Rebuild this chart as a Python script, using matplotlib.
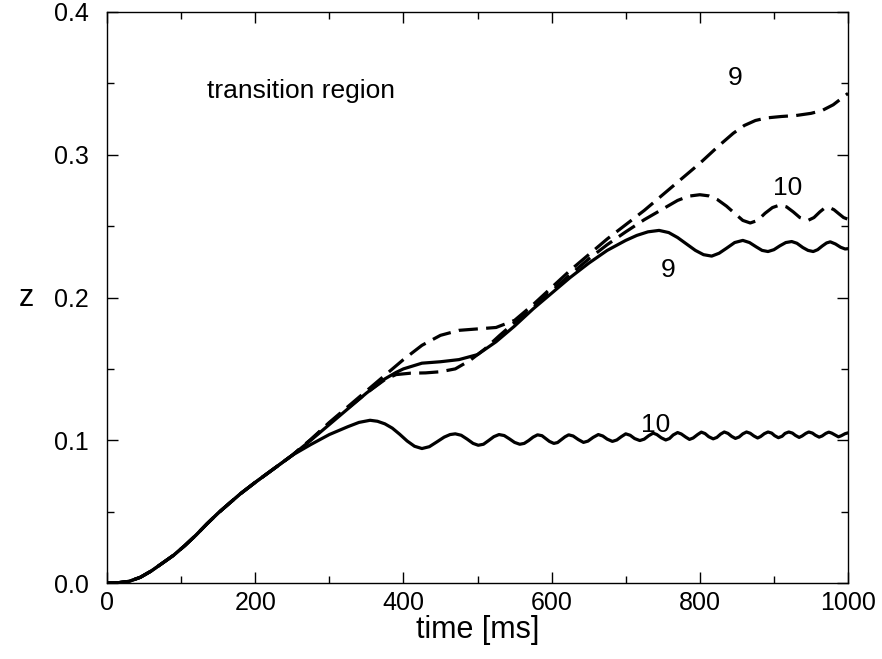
import matplotlib
matplotlib.use("Agg")
import matplotlib.pyplot as plt
from matplotlib.ticker import MultipleLocator, FormatStrFormatter

plt.rcParams['font.family'] = ['Liberation Sans', 'DejaVu Sans']

# common early rise (all four runs coincide)
t_common = [0, 15, 30, 45, 60, 75, 90, 105, 120, 135, 150, 165, 180, 200, 225, 250]
z_common = [0.0, 0.0002, 0.0012, 0.0040, 0.0085, 0.0140, 0.0195, 0.0262, 0.0335,
            0.0415, 0.0490, 0.0558, 0.0625, 0.0705, 0.0800, 0.0895]

# solid, label 10 (lower)
t_s10 = [275, 300, 325, 340, 355, 365, 375, 385, 395, 405, 415, 425, 435, 445, 455,
         463, 470, 478, 486, 494, 501, 508, 515, 522, 529, 536, 543, 550, 557, 563,
         569, 575, 581, 587, 592, 597, 603, 608, 613, 618, 623, 629, 636, 643, 649,
         656, 663, 669, 675, 682, 688, 694, 700, 706, 712, 719, 725, 731, 737, 742,
         748, 754, 759, 764, 770, 775, 781, 786, 791, 797, 802, 807, 812, 818, 823,
         828, 833, 838, 843, 848, 853, 858, 863, 868, 873, 878, 882, 887, 892, 897,
         901, 906, 911, 915, 920, 925, 929, 934, 938, 943, 947, 952, 956, 961, 965,
         970, 974, 978, 983, 987, 991, 996, 1000]
z_s10 = [0.0970, 0.1040, 0.1095, 0.1125, 0.1140, 0.1133, 0.1115, 0.1085, 0.1042,
         0.0995, 0.0958, 0.0942, 0.0955, 0.0988, 0.1022, 0.1040, 0.1045, 0.1035,
         0.1008, 0.0978, 0.0965, 0.0972, 0.0998, 0.1025, 0.1040, 0.1033, 0.1010,
         0.0985, 0.0972, 0.0978, 0.0998, 0.1022, 0.1038, 0.1032, 0.1012, 0.0992,
         0.0978, 0.0984, 0.1004, 0.1024, 0.1038, 0.1030, 0.1005, 0.0985, 0.0994,
         0.1020, 0.1040, 0.1030, 0.1008, 0.0992, 0.1002, 0.1025, 0.1045, 0.1035,
         0.1012, 0.0998, 0.1008, 0.1032, 0.1050, 0.1040, 0.1017, 0.1002, 0.1012,
         0.1037, 0.1054, 0.1044, 0.1022, 0.1006, 0.1016, 0.1040, 0.1057, 0.1047,
         0.1025, 0.1010, 0.1020, 0.1043, 0.1058, 0.1048, 0.1027, 0.1013, 0.1023,
         0.1045, 0.1058, 0.1049, 0.1030, 0.1016, 0.1026, 0.1046, 0.1058, 0.1050,
         0.1032, 0.1018, 0.1028, 0.1048, 0.1058, 0.1050, 0.1034, 0.1020, 0.1030,
         0.1048, 0.1058, 0.1050, 0.1035, 0.1022, 0.1030, 0.1048, 0.1057, 0.1050,
         0.1036, 0.1024, 0.1032, 0.1046, 0.1052]

# solid, label 9
t_s9 = [275, 300, 325, 350, 375, 390, 400, 425, 450, 475, 500, 525, 550, 575, 600,
        625, 650, 675, 700, 715, 730, 745, 758, 770, 782, 794, 805, 816, 826, 836,
        847, 858, 867, 876, 884, 892, 900, 908, 916, 924, 931, 939, 946, 953, 959,
        965, 971, 976, 983, 990, 996, 1000]
z_s9 = [0.1000, 0.1110, 0.1220, 0.1330, 0.1430, 0.1475, 0.1500, 0.1540, 0.1550,
        0.1565, 0.1600, 0.1690, 0.1800, 0.1920, 0.2030, 0.2140, 0.2240, 0.2330,
        0.2400, 0.2435, 0.2460, 0.2470, 0.2455, 0.2420, 0.2375, 0.2330, 0.2300,
        0.2290, 0.2310, 0.2345, 0.2385, 0.2400, 0.2385, 0.2355, 0.2330, 0.2322,
        0.2335, 0.2362, 0.2385, 0.2392, 0.2380, 0.2350, 0.2330, 0.2322, 0.2335,
        0.2360, 0.2382, 0.2390, 0.2375, 0.2352, 0.2340, 0.2342]

# dashed, label 9 (upper)
t_d9 = [275, 300, 325, 350, 375, 400, 425, 450, 475, 500, 525, 550, 575, 600, 625,
        650, 675, 700, 725, 750, 775, 800, 825, 845, 860, 875, 890, 910, 930, 950,
        965, 980, 1000]
z_d9 = [0.1005, 0.1125, 0.1235, 0.1345, 0.1455, 0.1565, 0.1665, 0.1735, 0.1770,
        0.1780, 0.1790, 0.1840, 0.1950, 0.2070, 0.2190, 0.2300, 0.2410, 0.2510,
        0.2610, 0.2720, 0.2830, 0.2940, 0.3060, 0.3150, 0.3205, 0.3240, 0.3258,
        0.3268, 0.3275, 0.3290, 0.3310, 0.3350, 0.3430]

# dashed, label 10
t_d10 = [275, 300, 325, 350, 375, 390, 410, 430, 450, 470, 490, 510, 530, 550, 575,
         600, 625, 650, 675, 700, 725, 750, 770, 785, 800, 812, 824, 836, 848, 858,
         868, 878, 888, 898, 908, 917, 926, 935, 946, 954, 962, 968, 974, 981, 988,
         994, 1000]
z_d10 = [0.1005, 0.1120, 0.1225, 0.1330, 0.1425, 0.1460, 0.1470, 0.1472, 0.1480,
         0.1500, 0.1560, 0.1640, 0.1735, 0.1825, 0.1930, 0.2045, 0.2160, 0.2270,
         0.2370, 0.2460, 0.2545, 0.2620, 0.2680, 0.2710, 0.2720, 0.2712, 0.2685,
         0.2640, 0.2585, 0.2540, 0.2522, 0.2540, 0.2590, 0.2630, 0.2648, 0.2635,
         0.2600, 0.2560, 0.2540, 0.2560, 0.2600, 0.2625, 0.2632, 0.2615, 0.2585,
         0.2560, 0.2548]

fig = plt.figure(figsize=(8.82, 6.59), dpi=100)
ax = fig.add_axes([0.1213, 0.1153, 0.8402, 0.8665])

lw = 2.3
kw = dict(color='black', lw=lw, solid_joinstyle='round', solid_capstyle='round')
ax.plot(t_common + t_s10, z_common + z_s10, **kw)
ax.plot(t_common + t_s9, z_common + z_s9, **kw)
ax.plot(t_common + t_d9, z_common + z_d9, dashes=(6, 2.6), **kw)
ax.plot(t_common + t_d10, z_common + z_d10, dashes=(6, 2.6), **kw)

ax.set_xlim(0, 1000)
ax.set_ylim(0, 0.4)
ax.xaxis.set_major_locator(MultipleLocator(200))
ax.xaxis.set_minor_locator(MultipleLocator(100))
ax.yaxis.set_major_locator(MultipleLocator(0.1))
ax.yaxis.set_minor_locator(MultipleLocator(0.05))
ax.yaxis.set_major_formatter(FormatStrFormatter('%.1f'))
ax.tick_params(which='both', direction='in', top=True, right=True, labelsize=18, width=1)
ax.tick_params(which='major', length=8)
ax.tick_params(which='minor', length=5)
ax.tick_params(axis='x', pad=6)
ax.tick_params(axis='y', pad=13)
for s in ax.spines.values():
    s.set_linewidth(1)

ax.set_xlabel('time [ms]', fontsize=22, labelpad=0)
ax.set_ylabel('z', fontsize=22, rotation=0, labelpad=20, va='center')

ax.text(135, 0.345, 'transition region', fontsize=19, va='center')
ax.text(847, 0.354, '9', fontsize=19, ha='center', va='center')
ax.text(918, 0.277, '10', fontsize=19, ha='center', va='center')
ax.text(757, 0.219, '9', fontsize=19, ha='center', va='center')
ax.text(740, 0.111, '10', fontsize=19, ha='center', va='center')

fig.savefig('out.png', dpi=100)
